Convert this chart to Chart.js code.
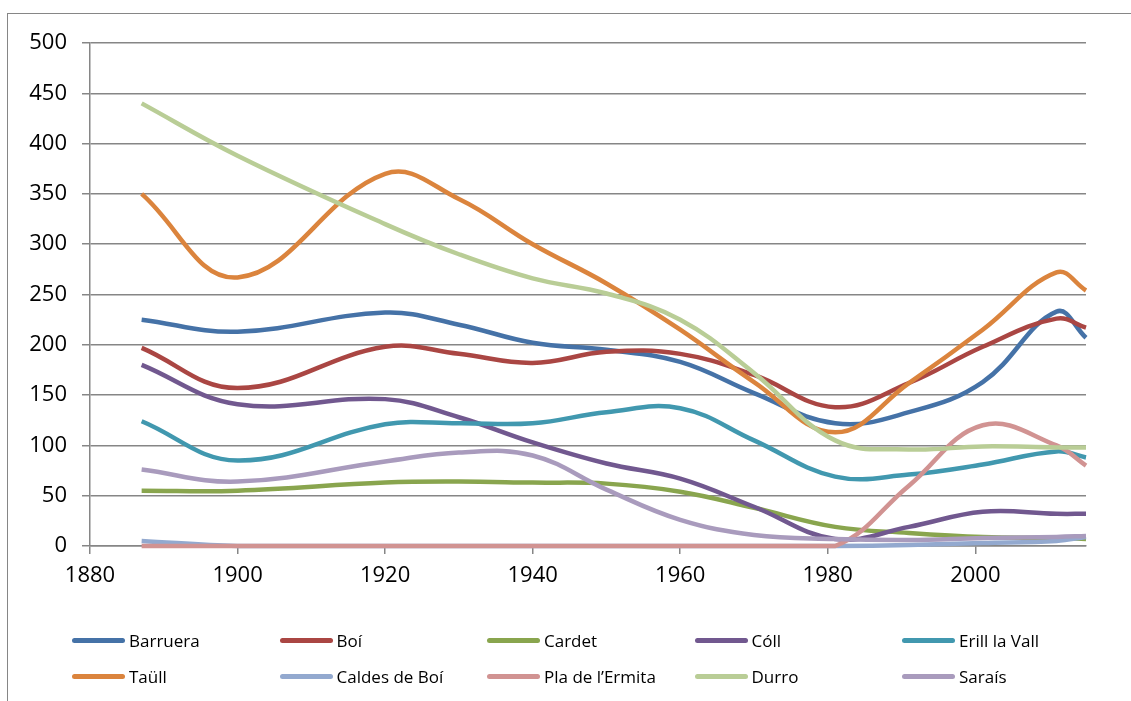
<!DOCTYPE html>
<html>
<head>
<meta charset="utf-8">
<script src="https://cdn.jsdelivr.net/npm/chart.js"></script>
<style>
  body { margin: 0; width: 1131px; height: 701px; overflow: hidden; background: #fff; font-family: "Open Sans", sans-serif; }
  #frame { position: absolute; left: 7px; top: 13px; width: 1200px; height: 800px; border: 1px solid #868686; }
  #wrap { position: absolute; left: 0; top: 0; width: 1131px; height: 701px; }
  #legend { position: absolute; left: 72px; top: 622px; display: grid; grid-template-columns: repeat(5, 207.5px); grid-auto-rows: 36px; }
  .item { display: flex; align-items: center; font-size: 17px; color: #000; white-space: nowrap; }
  .swatch { width: 53px; height: 5px; border-radius: 3px; margin-right: 4px; }
</style>
</head>
<body>
<div id="frame"></div>
<div id="wrap"><canvas id="popChart" width="1131" height="701"></canvas></div>
<div id="legend"></div>
<script>
// Census years and population per village (Vall de Boí)
const years = [1887, 1900, 1920, 1930, 1940, 1950, 1960, 1970, 1981, 1991, 2001, 2011, 2015];

const barruera = [225, 213, 232, 220, 202, 195, 183, 152, 122, 133, 163, 233, 207];
const boi      = [197, 157, 198, 191, 182, 193, 191, 170, 138, 162, 198, 226, 217];
const cardet   = [55, 55, 63, 64, 63, 62, 54, 38, 19, 13, 9, 8, 7];
const coll     = [180, 141, 146, 128, 103, 82, 67, 39, 7, 19, 34, 32, 32];
const erill    = [124, 85, 121, 122, 122, 133, 137, 105, 69, 71, 81, 94, 88];
const taull    = [350, 267, 370, 345, 300, 261, 215, 163, 113, 162, 215, 272, 254];
const caldes   = [5, 0, 0, 0, 0, 0, 0, 0, 0, 1, 3, 5, 9];
const pla      = [0, 0, 0, 0, 0, 0, 0, 0, 0, 60, 120, 100, 80];
const durro    = [440, 388, 320, 290, 266, 251, 225, 172, 105, 96, 99, 98, 98];
const sarais   = [76, 64, 84, 93, 90, 56, 26, 11, 7, 6, 8, 9, 10];

const seriesNames = ['Barruera', 'Boí', 'Cardet', 'Cóll', 'Erill la Vall',
                     'Taüll', 'Caldes de Boí', 'Pla de l\u2019Ermita', 'Durro', 'Saraís'];
const seriesValues = [barruera, boi, cardet, coll, erill, taull, caldes, pla, durro, sarais];
const seriesColors = ['#4572A7', '#AA4643', '#89A54E', '#71588F', '#4198AF',
                      '#DB843D', '#93A9CF', '#D19392', '#B9CD96', '#A99BBD'];

// axis tick labels
const xTicks = [1880, 1900, 1920, 1940, 1960, 1980, 2000];
const yTicks = [0, 50, 100, 150, 200, 250, 300, 350, 400, 450, 500];

const gridColor = '#868686';
const tickFont = { family: '"Open Sans", sans-serif', size: 22 };

const datasets = seriesNames.map((name, i) => ({
    label: name,
    data: years.map((y, j) => ({ x: y, y: seriesValues[i][j] })),
    borderColor: seriesColors[i],
    backgroundColor: seriesColors[i],
    borderWidth: 4.5,
    pointRadius: 0,
    tension: 0.4,
    fill: false,
    clip: false,
    order: seriesNames.length - i // later series drawn on top, like Excel
}));

const ctx = document.getElementById('popChart').getContext('2d');
const popChart = new Chart(ctx, {
    type: 'line',
    data: { datasets: datasets },
    options: {
        responsive: false,
        animation: false,
        layout: { padding: { top: 43, right: 45, bottom: 95, left: 0 } },
        plugins: {
            legend: { display: false },
            tooltip: { enabled: false }
        },
        scales: {
            x: {
                type: 'linear',
                min: 1880,
                max: 2015,
                afterBuildTicks: scale => { scale.ticks = xTicks.map(v => ({ value: v })); },
                afterFit: scale => { scale.height = 60; },
                grid: { drawOnChartArea: false, drawTicks: true, tickLength: 8, color: gridColor, lineWidth: 1.5 },
                border: { color: gridColor, width: 1.5 },
                ticks: { color: '#000', font: tickFont, padding: 9, maxRotation: 0, callback: v => String(v) }
            },
            y: {
                min: 0,
                max: 500,
                afterBuildTicks: scale => { scale.ticks = yTicks.map(v => ({ value: v })); },
                afterFit: scale => { scale.width = 90; },
                grid: { color: gridColor, lineWidth: 1.5, tickLength: 8 },
                border: { color: gridColor, width: 1.5 },
                ticks: { color: '#000', font: tickFont, padding: 15, callback: v => String(v) }
            }
        }
    }
});

// legend in Excel's fixed 5-column grid
const legendEl = document.getElementById('legend');
popChart.data.datasets.forEach(ds => {
    const item = document.createElement('div');
    item.className = 'item';
    const sw = document.createElement('span');
    sw.className = 'swatch';
    sw.style.background = ds.borderColor;
    item.appendChild(sw);
    item.appendChild(document.createTextNode(ds.label));
    legendEl.appendChild(item);
});
</script>
</body>
</html>
